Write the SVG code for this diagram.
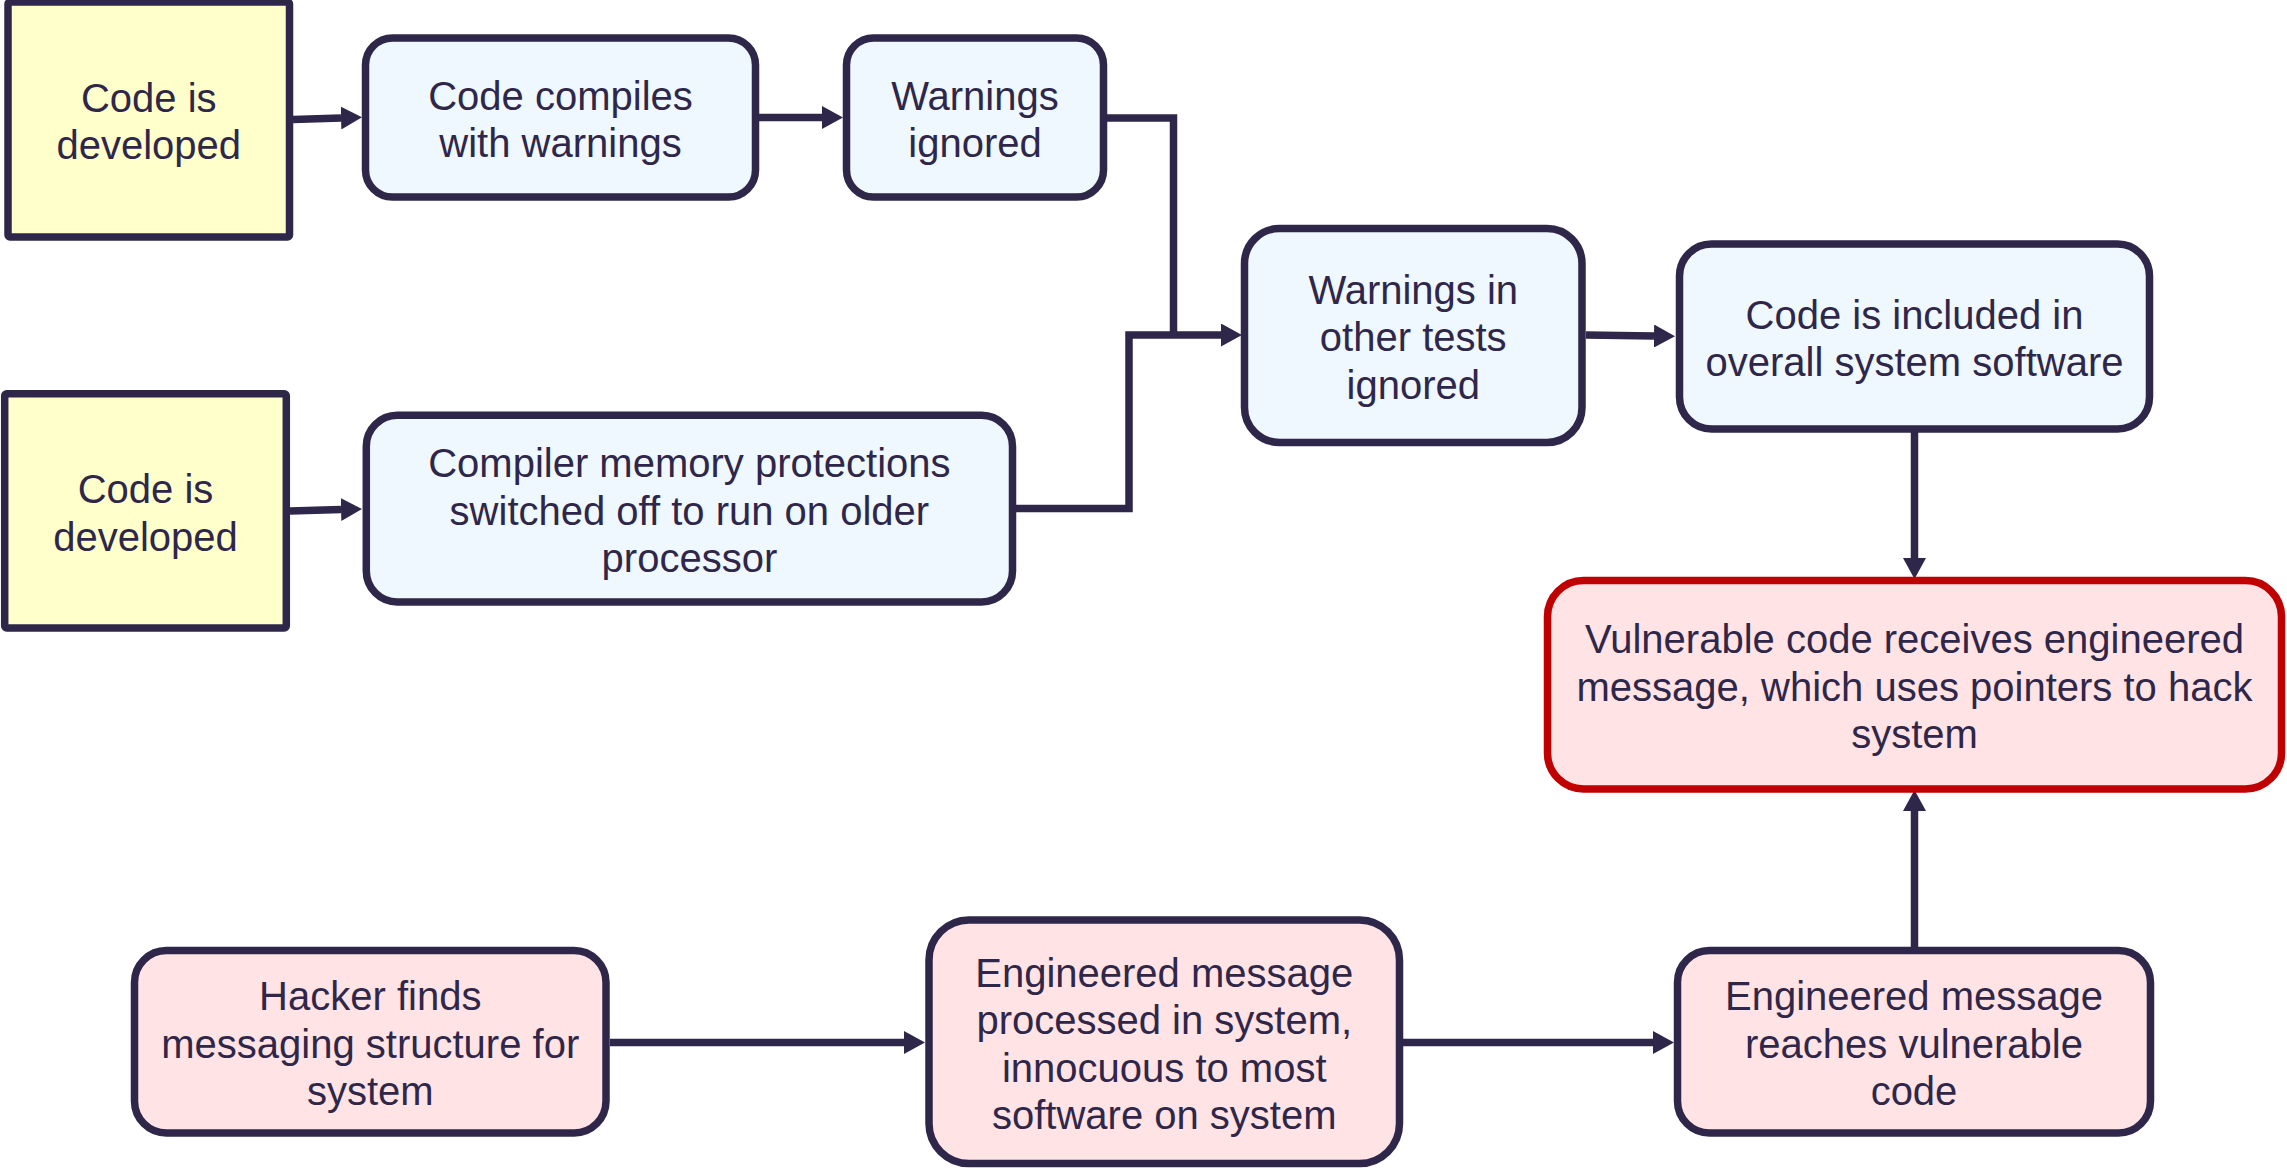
<svg xmlns="http://www.w3.org/2000/svg" width="2287" height="1172" viewBox="0 0 2287 1172">
  <defs>
    <style>
      .node { stroke: #2f2749; stroke-width: 7.5; }
      .yellow { fill: #ffffcc; }
      .blue { fill: #eff7ff; }
      .pink { fill: #ffe3e5; }
      .red { fill: #ffe3e5; stroke: #c00000; }
      .lbl { font-family: "Liberation Sans", Arial, sans-serif; font-size: 40px; fill: #2f2749; text-anchor: middle; }
      .conn { fill: none; stroke: #2f2749; stroke-width: 7.5; stroke-linejoin: miter; stroke-linecap: butt; }
    </style>
    <marker id="arrow" viewBox="0 0 21 23" refX="0" refY="11.5" markerWidth="21" markerHeight="23" markerUnits="userSpaceOnUse" orient="auto">
      <path d="M0,0 L21,11.5 L0,23 Z" fill="#2f2749"/>
    </marker>
  </defs>
  <rect width="2287" height="1172" fill="#ffffff"/>

  <g id="connectors">
    <path class="conn" d="M293,119.5 L341,118" marker-end="url(#arrow)"/>
    <path class="conn" d="M759,117.5 H822" marker-end="url(#arrow)"/>
    <path class="conn" d="M1107,118 H1173.5 V335"/>
    <path class="conn" d="M1016,508.5 H1129 V335 H1221" marker-end="url(#arrow)"/>
    <path class="conn" d="M290,511 L341,509.5" marker-end="url(#arrow)"/>
    <path class="conn" d="M1586,335 L1654,336" marker-end="url(#arrow)"/>
    <path class="conn" d="M1914.5,432 V558" marker-end="url(#arrow)"/>
    <path class="conn" d="M610,1042.5 H904" marker-end="url(#arrow)"/>
    <path class="conn" d="M1403,1042.5 H1653" marker-end="url(#arrow)"/>
    <path class="conn" d="M1914.5,954 V811" marker-end="url(#arrow)"/>
  </g>

  <g id="n1">
    <rect class="node yellow" x="8" y="2" width="281.5" height="235" rx="2"/>
    <text class="lbl" x="148.75" y="111.75">Code is</text>
    <text class="lbl" x="148.75" y="159.25">developed</text>
  </g>
  <g id="n2">
    <rect class="node blue" x="365.5" y="38" width="390" height="159" rx="27"/>
    <text class="lbl" x="560.5" y="109.75">Code compiles</text>
    <text class="lbl" x="560.5" y="157.25">with warnings</text>
  </g>
  <g id="n3">
    <rect class="node blue" x="846.5" y="38" width="257" height="159" rx="27"/>
    <text class="lbl" x="975" y="109.75">Warnings</text>
    <text class="lbl" x="975" y="157.25">ignored</text>
  </g>
  <g id="n4">
    <rect class="node yellow" x="4.7" y="393.7" width="281.6" height="234.3" rx="2"/>
    <text class="lbl" x="145.5" y="503.1">Code is</text>
    <text class="lbl" x="145.5" y="550.6">developed</text>
  </g>
  <g id="n5">
    <rect class="node blue" x="366.3" y="415.3" width="646.2" height="186.7" rx="31"/>
    <text class="lbl" x="689.4" y="477.15">Compiler memory protections</text>
    <text class="lbl" x="689.4" y="524.65">switched off to run on older</text>
    <text class="lbl" x="689.4" y="572.15">processor</text>
  </g>
  <g id="n6">
    <rect class="node blue" x="1244.5" y="228.5" width="337.5" height="214" rx="35"/>
    <text class="lbl" x="1413.25" y="303.75">Warnings in</text>
    <text class="lbl" x="1413.25" y="351.25">other tests</text>
    <text class="lbl" x="1413.25" y="398.75">ignored</text>
  </g>
  <g id="n7">
    <rect class="node blue" x="1679.5" y="244" width="470" height="185" rx="32"/>
    <text class="lbl" x="1914.5" y="328.75">Code is included in</text>
    <text class="lbl" x="1914.5" y="376.25">overall system software</text>
  </g>
  <g id="n8">
    <rect class="node red" x="1547.5" y="580.5" width="734" height="208.5" rx="36"/>
    <text class="lbl" x="1914.5" y="653.25">Vulnerable code receives engineered</text>
    <text class="lbl" x="1914.5" y="700.75">message, which uses pointers to hack</text>
    <text class="lbl" x="1914.5" y="748.25">system</text>
  </g>
  <g id="n9">
    <rect class="node pink" x="134.5" y="950.5" width="471.5" height="182.5" rx="32"/>
    <text class="lbl" x="370.25" y="1010.25">Hacker finds</text>
    <text class="lbl" x="370.25" y="1057.75">messaging structure for</text>
    <text class="lbl" x="370.25" y="1105.25">system</text>
  </g>
  <g id="n10">
    <rect class="node pink" x="929" y="920" width="470.5" height="243.5" rx="40"/>
    <text class="lbl" x="1164.25" y="986.5">Engineered message</text>
    <text class="lbl" x="1164.25" y="1034">processed in system,</text>
    <text class="lbl" x="1164.25" y="1081.5">innocuous to most</text>
    <text class="lbl" x="1164.25" y="1129">software on system</text>
  </g>
  <g id="n11">
    <rect class="node pink" x="1677.5" y="950.5" width="473" height="182.5" rx="32"/>
    <text class="lbl" x="1914" y="1010.25">Engineered message</text>
    <text class="lbl" x="1914" y="1057.75">reaches vulnerable</text>
    <text class="lbl" x="1914" y="1105.25">code</text>
  </g>
</svg>
